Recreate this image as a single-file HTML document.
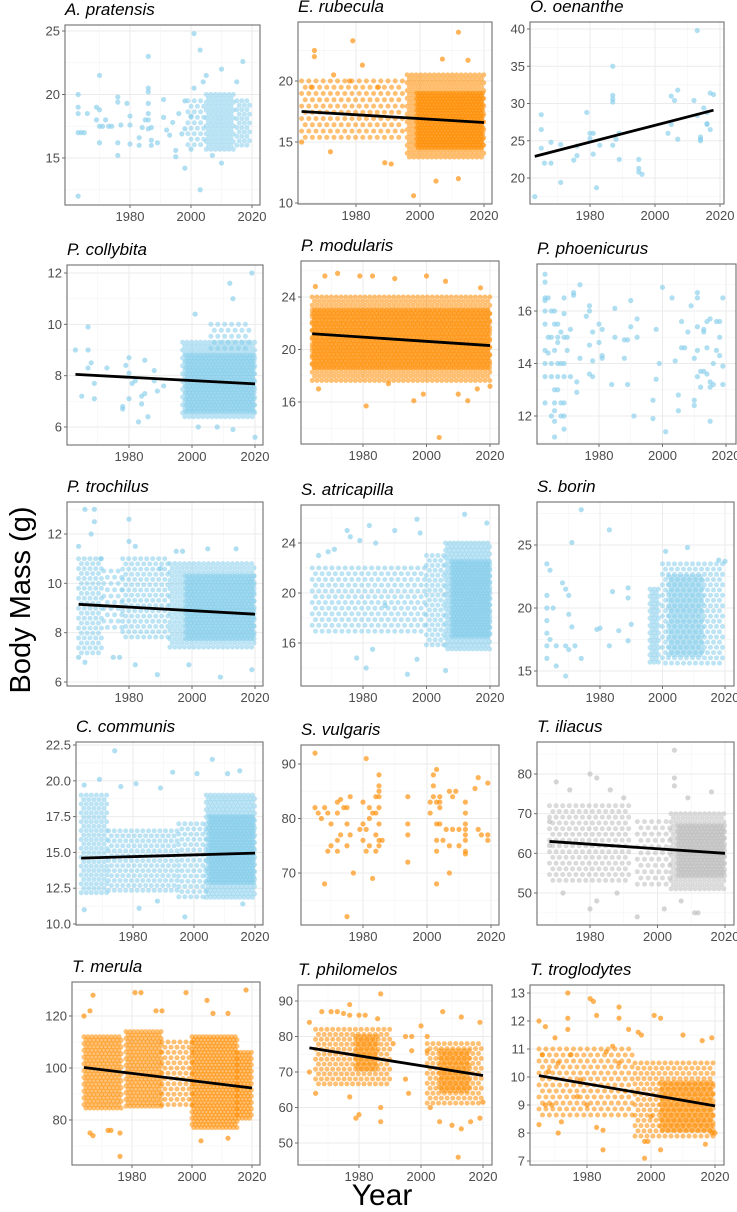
<!DOCTYPE html>
<html><head><meta charset="utf-8"><style>
body{margin:0;background:#fff;}
svg{display:block;font-family:"Liberation Sans",sans-serif;}
</style></head><body>
<svg id="fig" width="737" height="1212" viewBox="0 0 737 1212" xmlns="http://www.w3.org/2000/svg">
<text x="0" y="0" transform="translate(30,600) rotate(-90)" text-anchor="middle" font-size="29" fill="#000">Body Mass (g)</text>
<text x="382" y="1205" text-anchor="middle" font-size="30" fill="#000">Year</text>
</svg>
<script>
const speciesNames=["A. pratensis","E. rubecula","O. oenanthe","P. collybita","P. modularis","P. phoenicurus","P. trochilus","S. atricapilla","S. borin","C. communis","S. vulgaris","T. iliacus","T. merula","T. philomelos","T. troglodytes"];
const yTickValues=[[15,20,25],[10,15,20],[20,25,30,35,40],[6,8,10,12],[16,20,24],[12,14,16],[6,8,10,12],[16,20,24],[15,20,25],[10,12.5,15,17.5,20,22.5],[70,80,90],[50,60,70,80],[80,100,120],[50,60,70,80,90],[7,8,9,10,11,12,13]];
const xTickValues=[1980,2000,2020];
// trend lines: [yearStart, massStart, yearEnd, massEnd] or null
const trendLines=[null,[1963,17.5,2020,16.6],[1963,22.9,2018,29.1],[1963,8.05,2020,7.68],[1964,21.2,2020,20.3],null,[1964,9.15,2020,8.75],null,null,[1963,14.6,2020,14.95],null,[1968,63,2020,60],[1964,100.2,2020,92.3],[1964,76.8,2020,69],[1965,10.05,2020,8.97]];
// dense clouds: [yearStart, yearEnd, massLow, massHigh, density]
const pratensisBands=[[1999,2005,16,19.5,0.45],[2005,2014,15.5,20,0.75],[2015,2020,15.8,19.5,0.65]];
const rubeculaBands=[[1963,1995,15,20,0.3],[1996,2020,13.5,20.5,0.75],[1999,2020,14.5,19,0.95]];
const oenantheBands=[];
const collybitaBands=[[1997,2020,6.3,9.3,0.75],[1998,2020,6.6,8.8,0.9],[2006,2019,9,10,0.35]];
const modularisBands=[[1964,2020,17.5,24,0.7],[1964,2020,18.5,23,0.85]];
const phoenicurusBands=[];
const trochilusBands=[[1964,1972,7,11,0.55],[1972,1978,8,10.5,0.3],[1978,1993,7.8,11,0.5],[1993,2020,7.3,10.8,0.7],[1998,2020,7.7,10.3,0.9]];
const atricapillaBands=[[1964,2000,16.5,22,0.4],[2000,2006,15.5,23,0.55],[2006,2020,15.5,24,0.8],[2008,2020,16.5,22.5,0.95]];
const borinBands=[[1996,1999,15.5,21.5,0.8],[2000,2020,15.3,23.5,0.5],[2002,2013,16,22.5,0.75]];
const communisBands=[[1963,1972,12,19,0.65],[1972,1995,12,16.5,0.55],[1995,2004,11.8,17,0.5],[2004,2020,11.8,19,0.8],[2005,2020,12.8,17.5,0.95]];
const vulgarisBands=[];
const iliacusBands=[[1968,1992,52,72,0.4],[1994,2004,52,68,0.3],[2004,2020,50,70,0.7],[2006,2020,54,67,0.9]];
const merulaBands=[[1964,1977,84,112,0.85],[1978,1990,84,114,0.85],[1990,2000,85,110,0.5],[2000,2015,77,112,0.9],[2015,2020,80,106,0.9]];
const philomelosBands=[[1966,1990,66,82,0.55],[1979,1986,70,80,0.8],[2002,2020,60,78,0.55],[2006,2016,64,76,0.8]];
const troglodytesBands=[[1965,1995,8.5,11,0.35],[1995,2020,7.8,10.5,0.5],[2003,2020,8.1,9.8,0.8]];
// individual points: [year, mass]
const pratensisPts=[[1963,20],[1963,19],[1963,18.5],[1963,17],[1964,17],[1965,17],[1966,18.5],[1963,12],[1969,19],[1970,18.8],[1970,21.5],[1969,18],[1970,17.5],[1970,16.2],[1971,17.5],[1972,18],[1973,17.5],[1974,17.5],[1976,19.8],[1976,19.4],[1976,16.2],[1976,15.2],[1977,17.6],[1979,19.3],[1980,18.3],[1980,17.6],[1980,16.1],[1983,16.6],[1983,16],[1984,17.4],[1985,18],[1986,23],[1986,20.5],[1986,20.2],[1986,19.3],[1986,18.5],[1986,18],[1986,17.3],[1987,16],[1987,16.4],[1987,17.4],[1989,16.2],[1991,19.6],[1991,18.2],[1992,17.2],[1993,16.8],[1994,17.8],[1995,15.6],[1995,15.1],[1996,18.5],[1997,16.9],[1998,19.5],[1998,14.2],[1998,17.3],[2000,18.3],[2000,15.7],[2001,24.8],[2001,20.5],[2003,23.5],[2003,12.5],[2004,21],[2005,21.5],[2010,22],[2010,14.6],[2017,22.6],[2015,21],[2007,15.2]];
const rubeculaPts=[[1979,23.3],[2012,24],[1967,22.5],[1967,22],[1998,10.6],[2005,11.8],[2012,12],[1963,15],[1972,14.2],[1989,13.3],[1991,13.2],[2007,21.8],[2015,21.7],[1966,19.5],[1973,20.5],[1978,20],[1982,21.3],[1987,19.5]];
const oenanthePts=[[1963,17.5],[1965,28.5],[1965,26.5],[1965,24],[1966,22],[1968,24.8],[1968,22],[1971,19.4],[1971,24.5],[1975,22.4],[1976,23],[1976,24.3],[1979,28.8],[1980,26],[1980,25.3],[1981,26],[1981,23.2],[1982,18.7],[1983,24.4],[1987,35],[1987,31.1],[1987,30.6],[1987,30.2],[1987,24.4],[1988,25.2],[1989,26],[1989,22.5],[1995,22.5],[1995,21.3],[1995,20.8],[1996,20.5],[2004,26],[2005,31],[2005,27.2],[2006,30.4],[2007,31.8],[2007,25.2],[2012,30.4],[2013,39.8],[2013,28.4],[2014,25.5],[2014,25.2],[2014,25],[2015,29.4],[2016,28.8],[2016,27.3],[2016,27.2],[2017,31.4],[2017,26.5],[2018,31.2]];
const collybitaPts=[[1963,9],[1965,7.2],[1967,9.9],[1967,9],[1967,8.3],[1968,8.5],[1969,7.7],[1969,7.1],[1973,8.3],[1978,6.8],[1978,6.7],[1979,8.4],[1980,8.1],[1980,7.1],[1980,8.7],[1981,7.7],[1982,7.8],[1983,6.2],[1984,6.9],[1984,7.2],[1985,7.3],[1985,8.6],[1986,6.4],[1988,7.8],[1988,8.2],[1989,7.4],[1991,7.6],[2001,10.4],[2012,11.6],[2013,11],[2019,12],[2020,5.6],[2013,5.9],[2002,6],[2008,6]];
const modularisPts=[[1972,25.8],[1968,25.6],[1979,25.6],[1983,25.6],[1990,25.4],[2000,25.6],[2006,25.2],[2017,24.7],[1981,15.7],[2004,13.3],[1996,16.1],[1999,16.6],[2010,16.6],[2013,16.1],[2016,17],[2020,17.2],[1966,17],[1988,17.4],[1965,24.8]];
const phoenicurusPts=[[1963,17.4],[1963,17.1],[1963,16.5],[1963,16.4],[1963,16],[1963,15.5],[1963,14.5],[1963,14],[1963,13.5],[1963,12.5],[1964,16.5],[1964,15],[1964,14.4],[1965,16],[1965,15],[1965,14],[1965,13.5],[1965,12],[1966,16],[1966,15.5],[1966,14.5],[1966,13],[1966,12.5],[1966,12.2],[1966,11.8],[1966,11.2],[1967,15.5],[1967,15],[1967,14.8],[1967,14],[1967,13.5],[1967,13],[1968,15.2],[1968,14],[1968,12.5],[1968,12],[1969,16.5],[1969,15.9],[1969,15],[1969,14],[1969,13.5],[1969,12.5],[1969,12],[1969,11.5],[1970,15],[1970,14.5],[1971,15.3],[1971,13.5],[1972,16.7],[1972,16.6],[1973,13.3],[1973,12.9],[1974,14.2],[1974,17],[1976,15.8],[1977,16.2],[1977,16],[1977,14.7],[1977,13.6],[1978,15.2],[1978,14.1],[1978,13.5],[1980,15.5],[1980,14.8],[1981,14.3],[1981,14.2],[1981,15.3],[1984,13.2],[1985,16.1],[1985,15],[1988,14.2],[1988,14.9],[1989,14.9],[1989,13.2],[1990,15.4],[1990,16.4],[1991,12],[1992,15],[1992,15.7],[1997,11.9],[1997,12.6],[1998,15.3],[1998,13.4],[1999,14],[2000,16.9],[2001,11.4],[2003,16.5],[2004,14.1],[2005,12.2],[2005,12.8],[2006,14.6],[2006,15.6],[2007,14.6],[2008,15.2],[2009,16.2],[2010,14.2],[2010,12.6],[2010,12.4],[2011,16.7],[2011,16.5],[2011,15.4],[2011,14.5],[2011,13.5],[2012,13.7],[2012,13.1],[2013,15.3],[2013,15.2],[2013,13.7],[2014,15.6],[2014,14.6],[2014,13.6],[2015,13.3],[2015,13.1],[2015,11.8],[2015,15.7],[2016,14],[2016,13.2],[2017,15.6],[2017,14.5],[2018,15.6],[2018,15],[2018,14.3],[2019,16.5],[2019,13.9],[2019,13.2]];
const trochilusPts=[[1966,13],[1969,13],[1969,12.5],[1968,12],[1964,11.5],[1971,11],[1980,12.6],[1980,11.7],[1982,11.5],[1989,6.3],[2009,6.2],[2019,6.5],[1966,6.8],[1964,7],[1982,6.7],[1999,6.7],[2005,11.4],[2014,11.4],[1975,7],[1977,7],[1990,10.6],[1995,11.3],[1997,11.3]];
const atricapillaPts=[[1975,25],[1979,24.2],[1976,24.5],[1982,25.4],[1984,24],[1990,25],[1997,25.9],[1998,24.8],[2012,26.3],[2019,25.6],[1981,14],[1994,13.5],[1978,14.8],[1987,19],[1983,15.5],[1997,14.7],[2006,13.8],[1966,23],[1969,23.3],[1971,23.5]];
const borinPts=[[1963,23.5],[1964,23],[1963,21],[1963,20],[1963,19],[1963,18],[1963,17],[1963,16],[1964,17.5],[1965,20],[1966,17],[1966,15.4],[1968,22],[1969,21.5],[1969,17],[1969,14.6],[1970,21],[1970,19.5],[1970,16.7],[1971,25.2],[1971,18.5],[1972,17],[1974,16],[1974,27.8],[1979,18.3],[1980,18.4],[1983,26.2],[1984,21.3],[1983,17],[1986,18.2],[1989,21.6],[1989,20.8],[1989,17.4],[1990,18.7],[2008,24.8],[2018,23.8],[2020,23.7],[2001,24.5]];
const communisPts=[[1974,22.1],[1969,20.1],[1976,19.6],[1981,19.8],[1989,19.5],[1993,20.6],[2001,20.5],[2006,21.5],[2011,20.5],[2015,20.7],[1964,11],[1982,11.1],[1997,10.5],[2016,11.4],[1988,11.6],[1964,19.7]];
const vulgarisPts=[[1965,92],[1965,82],[1966,81],[1967,80],[1968,82],[1968,68],[1969,81],[1969,74],[1970,79],[1970,75],[1972,83],[1972,81],[1972,76],[1972,74],[1973,83.5],[1973,77],[1974,82],[1975,79],[1975,75],[1975,62],[1975,82],[1976,84],[1976,77],[1977,70],[1979,78],[1980,83],[1980,79],[1980,76],[1981,91],[1981,78],[1981,74],[1982,82],[1982,80],[1982,75],[1983,81],[1983,69],[1984,84],[1984,81],[1984,77],[1984,74],[1985,88],[1985,86],[1985,85],[1985,84],[1985,82],[1985,79],[1985,76],[1985,75],[1986,76],[1994,84],[1994,79],[1994,77],[1994,72],[2001,83],[2001,81],[2002,88],[2002,84],[2002,86],[2003,89],[2003,83],[2003,79],[2003,76],[2003,74],[2003,68],[2004,84],[2004,83],[2004,82],[2004,79],[2005,76],[2006,78],[2007,85],[2007,75],[2007,70],[2008,84],[2008,78],[2009,85],[2010,78],[2010,75],[2012,83],[2012,81],[2012,79],[2012,78],[2012,77],[2012,76],[2012,74],[2012,73.5],[2015,85.5],[2016,87.5],[2016,78],[2017,77],[2019,86.5],[2019,77],[2019,76]];
const iliacusPts=[[1970,78],[1974,76],[1980,80],[1982,79],[1986,76],[1990,74],[1980,46],[1982,48],[1994,44],[2005,86],[2005,79],[2005,77],[2011,45],[2012,45],[2016,75.5],[2002,46],[1972,50],[1988,50],[2007,48],[2009,74],[1968,68],[1968,62]];
const merulaPts=[[1964,120],[1967,128],[1966,122],[1981,129],[1983,129],[1998,129],[2005,126],[2018,130],[1976,66],[1966,75],[1967,74],[2003,72],[2012,73],[1972,76],[1973,76],[1976,75],[1988,122],[1990,122],[2012,121],[2007,121]];
const philomelosPts=[[1964,70],[1964,84],[1966,64],[1968,87],[1971,87],[1973,87],[1975,86.5],[1977,89],[1977,86],[1980,86],[1982,86],[1986,85],[1987,92],[1977,63],[1979,57],[1980,58],[1987,56],[1987,60],[1991,78],[1995,80],[1995,68],[1996,64],[1997,80],[1997,76],[2000,83],[2002,80],[2002,76],[2006,56],[2007,87],[2010,55],[2012,46],[2013,54],[2013,85.5],[2016,56],[2019,84],[2019,57],[2020,61.5],[2003,60]];
const troglodytesPts=[[1965,12],[1967,11.8],[1974,13],[1974,12.1],[1974,11.7],[1981,12.8],[1982,12.7],[1983,12.2],[1990,12.5],[1990,12.1],[1993,11.7],[1996,11.6],[1997,11.5],[2001,12.2],[2003,12.1],[2010,11.5],[2019,11.4],[2016,11.3],[1970,11.4],[1969,9],[1967,9],[1965,8.3],[1971,8],[1972,8.4],[1985,7.4],[1983,8.2],[1985,8.1],[1998,7.1],[1998,7.7],[1999,7.7],[2003,7.4],[2000,8.6],[2017,7.6],[2019,8],[2020,8],[1966,10.8],[1968,10.2],[1971,10.5],[1975,10.8],[1977,9.3],[1978,9.9],[1980,9],[1986,10.9],[1988,11.1],[1990,10.5],[1992,9.5]];

const allBands=[pratensisBands,rubeculaBands,oenantheBands,collybitaBands,modularisBands,phoenicurusBands,trochilusBands,atricapillaBands,borinBands,communisBands,vulgarisBands,iliacusBands,merulaBands,philomelosBands,troglodytesBands];
const allPts=[pratensisPts,rubeculaPts,oenanthePts,collybitaPts,modularisPts,phoenicurusPts,trochilusPts,atricapillaPts,borinPts,communisPts,vulgarisPts,iliacusPts,merulaPts,philomelosPts,troglodytesPts];

const B="#87CEEB",O="#FF8C00",G="#BEBEBE";
const layout=[
 {box:[65,260,25,205],xr:[130,252],yr:[[25,31],[15,158]],c:B},
 {box:[298,492,22,204],xr:[356,484],yr:[[20,81],[10,203]],c:O},
 {box:[530,724,22,204],xr:[590,720],yr:[[40,29],[20,178]],c:B},
 {box:[67,263,265,445],xr:[129,255],yr:[[12,273],[6,427]],c:B},
 {box:[301,499,261,444],xr:[363,490],yr:[[24,297],[16,402]],c:O},
 {box:[537,736,264,444],xr:[599,726],yr:[[16,311],[12,416]],c:B},
 {box:[67,263,502,686],xr:[129,255],yr:[[12,534],[6,682]],c:B},
 {box:[301,499,505,686],xr:[363,490],yr:[[24,543],[16,643]],c:B},
 {box:[537,734,502,686],xr:[600,725],yr:[[25,545],[15,671]],c:B},
 {box:[76,263,742,925],xr:[133,255],yr:[[22.5,745],[10,924]],c:B},
 {box:[301,499,745,925],xr:[363,491],yr:[[90,764],[70,873]],c:O},
 {box:[537,734,742,925],xr:[590,725],yr:[[80,774],[50,893]],c:G},
 {box:[72,260,982,1165],xr:[132,252],yr:[[120,1016],[80,1120]],c:O},
 {box:[298,492,985,1165],xr:[359,483],yr:[[90,1001],[50,1143]],c:O},
 {box:[530,724,985,1165],xr:[587,715],yr:[[13,993],[7,1161]],c:O}
];
const NS="http://www.w3.org/2000/svg";
const svg=document.getElementById('fig');
function mk(tag,attrs,parent){const e=document.createElementNS(NS,tag);for(const k in attrs)e.setAttribute(k,attrs[k]);(parent||svg).appendChild(e);return e;}
layout.forEach((L,i)=>{
  const [x0,x1,y0,y1]=L.box;
  const sx=v=>L.xr[0]+(v-1980)*(L.xr[1]-L.xr[0])/40;
  const sy=v=>L.yr[0][1]+(v-L.yr[0][0])*(L.yr[1][1]-L.yr[0][1])/(L.yr[1][0]-L.yr[0][0]);
  const inv=p=>L.yr[0][0]+(p-L.yr[0][1])*(L.yr[1][0]-L.yr[0][0])/(L.yr[1][1]-L.yr[0][1]);
  const g=mk('g',{});
  
  
  const cp=mk('clipPath',{id:'cp'+i},g);mk('rect',{x:x0,y:y0,width:x1-x0,height:y1-y0},cp);
  const title=mk('text',{x:x0,y:y0-10,'font-size':17,'font-style':'italic',fill:'#000'},g);
  title.textContent=speciesNames[i];
  
  
  const grid=mk('g',{'clip-path':'url(#cp'+i+')'},g);
  
  
  const yt=yTickValues[i];const st=yt[1]-yt[0];
  const lo=inv(y1),hi=inv(y0);
  for(let v=yt[0]-st*2;v<=hi+st;v+=st/2){if(v<lo||v>hi)continue;const major=yt.some(t=>Math.abs(t-v)<1e-6);mk('line',{x1:x0,x2:x1,y1:sy(v),y2:sy(v),stroke:major?'#ebebeb':'#f5f5f5','stroke-width':major?1:0.7},grid);}
  for(let v=1950;v<=2030;v+=10){const p=sx(v);if(p<=x0||p>=x1)continue;const major=xTickValues.includes(v);mk('line',{x1:p,x2:p,y1:y0,y2:y1,stroke:major?'#ebebeb':'#f5f5f5','stroke-width':major?1:0.7},grid);}
  const marks=mk('g',{'clip-path':'url(#cp'+i+')'},g);
  allBands[i].forEach(b=>{
    const cloud=mk('g',{},marks);
    
    
    const s=9-6*b[4];
    const bx0=sx(b[0]),bx1=sx(b[1]),by0=sy(b[3]),by1=sy(b[2]);
    let row=0;
    for(let py=by0;py<=by1;py+=s*0.87,row++){
      for(let px=bx0+(row%2?s/2:0);px<=bx1;px+=s){
        mk('circle',{cx:px.toFixed(1),cy:py.toFixed(1),r:2.5,fill:L.c,'fill-opacity':0.55},cloud);
      }
    }
  });
  allPts[i].forEach(p=>{const c=mk('circle',{cx:sx(p[0]),cy:sy(p[1]),r:2.6,fill:L.c,'fill-opacity':0.65},marks);
    
    });
  const t=trendLines[i];
  if(t){const l=mk('line',{x1:sx(t[0]),y1:sy(t[1]),x2:sx(t[2]),y2:sy(t[3]),stroke:'#000','stroke-width':2.8},g);
    
    }
  const fr=mk('rect',{x:x0,y:y0,width:x1-x0,height:y1-y0,fill:'none',stroke:'#6e6e6e','stroke-width':1.1},g);
  
  
  yt.forEach(v=>{const p=sy(v);mk('line',{x1:x0-3,x2:x0,y1:p,y2:p,stroke:'#6e6e6e'},g);
    const tx=mk('text',{x:x0-5,y:p+4.5,'text-anchor':'end','font-size':13,fill:'#4d4d4d'},g);
    tx.textContent=(i===9?v.toFixed(1):String(v));
    
    });
  xTickValues.forEach(v=>{const p=sx(v);mk('line',{x1:p,x2:p,y1:y1,y2:y1+3,stroke:'#6e6e6e'},g);
    const tx=mk('text',{x:p,y:y1+16,'text-anchor':'middle','font-size':13,fill:'#4d4d4d'},g);
    tx.textContent=String(v);
    
    });
});
</script>
</body></html>
